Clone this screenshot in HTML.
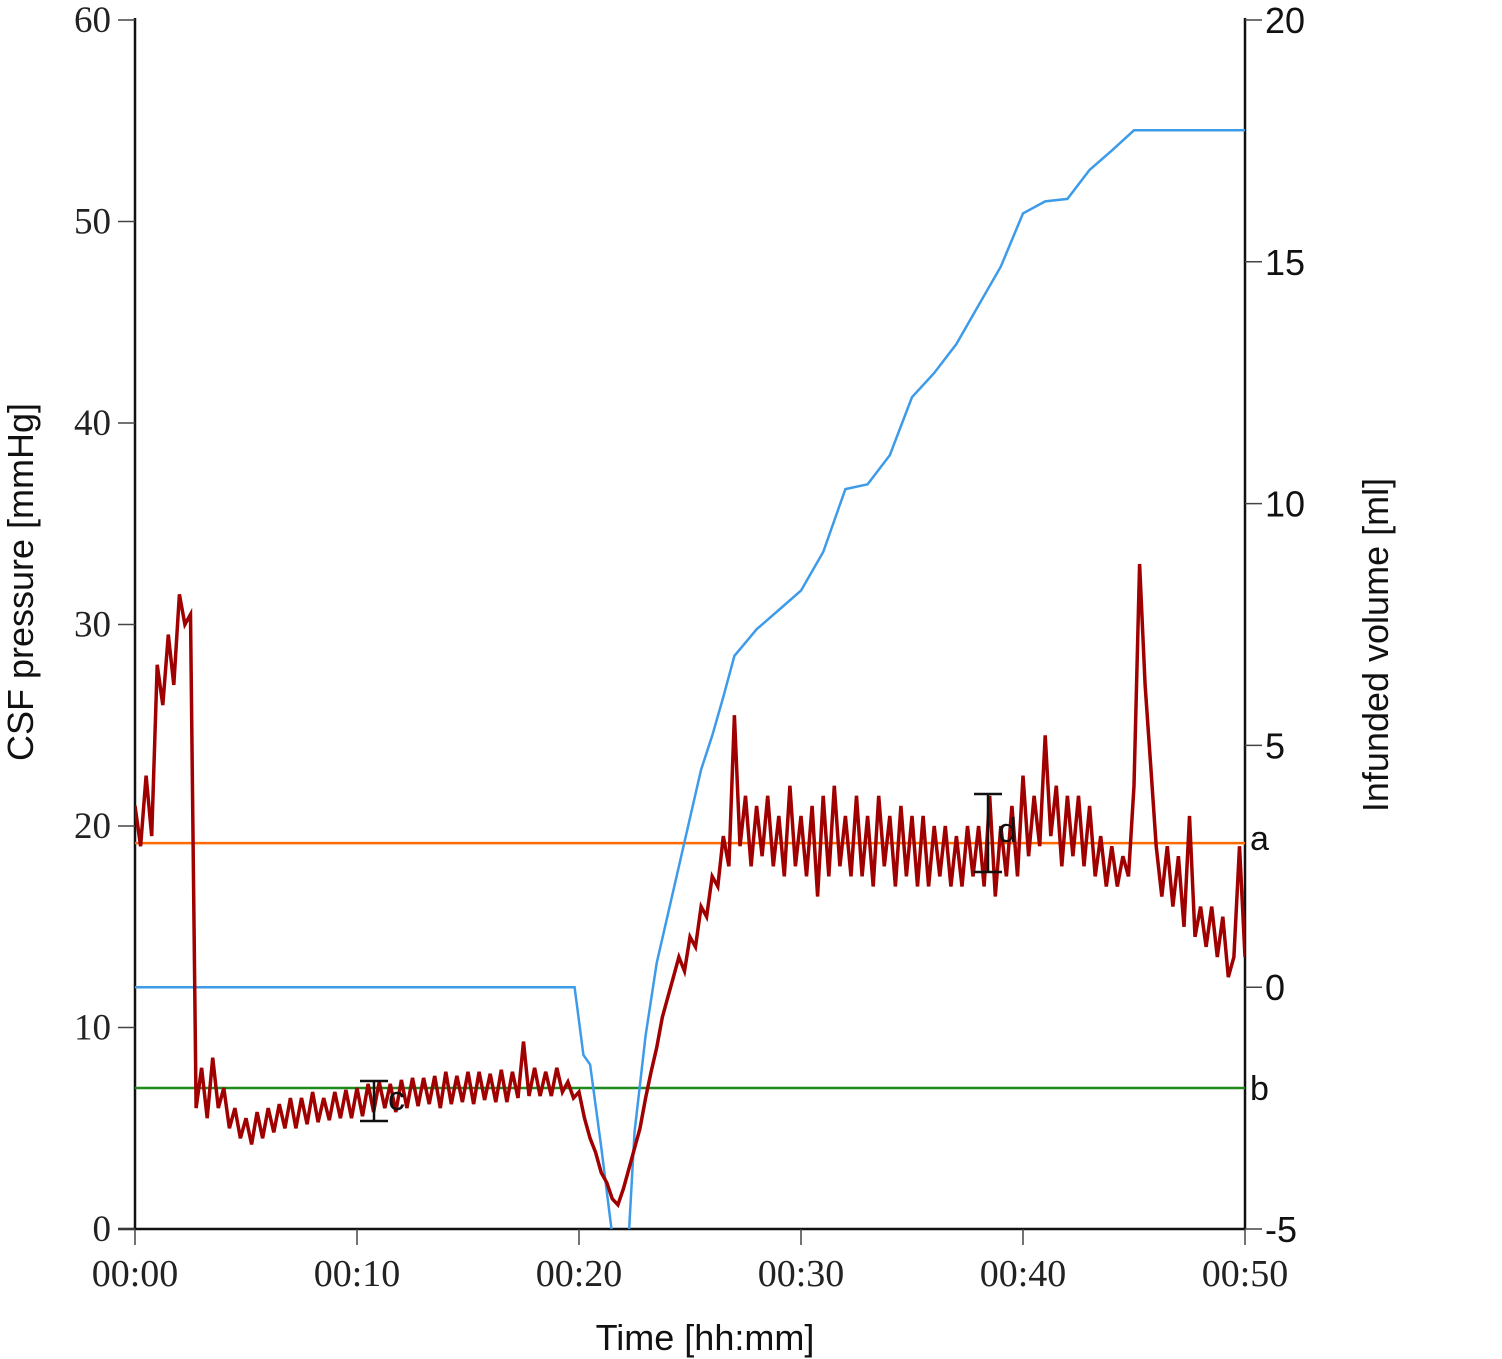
<!DOCTYPE html>
<html><head><meta charset="utf-8"><style>
html,body{margin:0;padding:0;background:#fff;}
svg{display:block;}
.ser{font-family:"Liberation Serif",serif;fill:#222;}
.san{font-family:"Liberation Sans",sans-serif;fill:#111;}
</style></head><body>
<svg id="chart" width="1502" height="1359" viewBox="0 0 1502 1359" xmlns="http://www.w3.org/2000/svg">
<defs><clipPath id="plotclip"><rect x="135" y="18" width="1110" height="1211"/></clipPath></defs>
<g id="axes"></g>
<g id="series" clip-path="url(#plotclip)"></g>
<g id="annot"></g>
</svg>
<script>
const timeTicks = ["00:00","00:10","00:20","00:30","00:40","00:50"];
const timeTickMin = [0,10,20,30,40,50];
const pressureTicks = [0,10,20,30,40,50,60];
const volumeTicks = [-5,0,5,10,15,20];
const pressureStepMin = 0.25;
const pressureValues = [
21,19,22.5,19.5,28,26,29.5,27,31.5,30,30.5,
6,8,5.5,8.5,6,7,5,6,4.5,5.5,4.2,5.8,4.5,6,4.8,6.2,5,6.5,5,6.5,5.2,6.8,5.3,6.5,5.4,6.8,5.5,6.9,5.5,
7,5.6,7.2,5.8,7.3,6,7.2,5.8,7.4,6,7.5,6.1,7.5,6.2,7.6,6,7.8,6.2,7.6,6.3,7.8,6.2,7.8,6.4,7.7,6.3,7.9,6.3,7.8,6.5,9.3,6.6,8,6.6,7.8,6.6,8,6.8,7.3,6.5,
6.8,5.5,4.5,3.8,2.8,2.3,1.5,1.2,2,3,4,5,6.5,7.8,9,10.5,11.5,12.5,13.5,12.8,14.5,14,16,15.5,17.5,17,19.5,18,
25.5,19,21.5,18,21,18.5,21.5,18,20.5,17.5,22,18,20.5,17.5,21,16.5,21.5,17.5,22,18,20.5,17.5,21.5,17.5,20.5,17,21.5,18,20.5,17,21,17.5,
20.5,17,20.5,17,20,17.5,20,17,19.5,17,20,17.5,20,17,21.5,16.5,20,17.5,21,17.5,22.5,18.5,21.5,19,24.5,19.5,22,18,21.5,18.5,21.5,18,
21,17.5,19.5,17,19,17,18.5,17.5,22,33,27,23,19,16.5,19,16,18.5,15,20.5,14.5,16,14,16,13.5,15.5,12.5,13.5,19,13.5];
const volumeTimes = [0,19.8,20.2,20.5,21.0,21.6,22.2,22.5,23,23.5,24,24.5,25,25.5,26,26.5,27,28,29,30,31,32,33,34,35,36,37,38,39,40,41,42,43,44,45,50];
const volumeValues = [0,0,-1.4,-1.6,-3.3,-5.5,-5.5,-3,-1,0.5,1.5,2.5,3.5,4.5,5.2,6.0,6.85,7.4,7.8,8.2,9.0,10.3,10.4,11.0,12.2,12.7,13.3,14.1,14.9,16.0,16.25,16.3,16.9,17.3,17.72,17.72];
const thresholdA = 19.15;
const thresholdB = 7.0;

const NS="http://www.w3.org/2000/svg";
const X0=135,X1=1245,Y0=1229,YT=20;
const xs=t=>X0+(t/50)*(X1-X0);
const yp=v=>Y0-(v/60)*(Y0-YT);
const yv=v=>Y0-((v+5)/25)*(Y0-YT);
function mk(tag,attrs,parent){const e=document.createElementNS(NS,tag);for(const k in attrs)e.setAttribute(k,attrs[k]);parent.appendChild(e);return e;}
const ax=document.getElementById('axes'),se=document.getElementById('series'),an=document.getElementById('annot');

let l=mk('line',{x1:X0,y1:18,x2:X0,y2:Y0,stroke:'#111','stroke-width':2.5},ax);


l=mk('line',{x1:X1,y1:18,x2:X1,y2:Y0,stroke:'#111','stroke-width':2.5},ax);


l=mk('line',{x1:118,y1:Y0,x2:X1,y2:Y0,stroke:'#111','stroke-width':2.5},ax);



pressureTicks.forEach(v=>{
  const y=yp(v);
  let t=mk('line',{x1:118,y1:y,x2:X0,y2:y,stroke:'#444','stroke-width':1.5},ax);
  
  
  let tx=mk('text',{x:111,y:y+12,'text-anchor':'end','font-size':37,class:'ser'},ax);
  tx.textContent=v;
  
  
});
volumeTicks.forEach(v=>{
  const y=yv(v);
  let t=mk('line',{x1:X1,y1:y,x2:1262,y2:y,stroke:'#444','stroke-width':1.5},ax);
  
  
  let tx=mk('text',{x:1265,y:y+13,'text-anchor':'start','font-size':36,class:'san'},ax);
  tx.textContent=v;
  
  
});
timeTickMin.forEach((m,i)=>{
  const x=xs(m);
  let t=mk('line',{x1:x,y1:Y0,x2:x,y2:1245,stroke:'#444','stroke-width':1.5},ax);
  
  
  let tx=mk('text',{x:x,y:1286,'text-anchor':'middle','font-size':38,class:'ser'},ax);
  tx.textContent=timeTicks[i];
  
  
});
let tt=mk('text',{x:705,y:1350,'text-anchor':'middle','font-size':36,class:'san'},ax);
tt.textContent='Time [hh:mm]';


tt=mk('text',{x:0,y:0,'text-anchor':'middle','font-size':36,class:'san',transform:'translate(33,582) rotate(-90)'},ax);
tt.textContent='CSF pressure [mmHg]';


tt=mk('text',{x:0,y:0,'text-anchor':'middle','font-size':36,class:'san',transform:'translate(1388,645) rotate(-90)'},ax);
tt.textContent='Infunded volume [ml]';



let h=mk('line',{x1:X0,y1:yp(thresholdA),x2:X1,y2:yp(thresholdA),stroke:'#ff6a00','stroke-width':2.5},se);


h=mk('line',{x1:X0,y1:yp(thresholdB),x2:X1,y2:yp(thresholdB),stroke:'#1e8a1e','stroke-width':2.5},se);



let vp=volumeTimes.map((t,i)=>xs(t).toFixed(1)+','+yv(volumeValues[i]).toFixed(1)).join(' ');
let pl=mk('polyline',{points:vp,fill:'none',stroke:'#3d9be9','stroke-width':2.5},se);



let pp=pressureValues.map((v,i)=>xs(i*pressureStepMin).toFixed(1)+','+yp(v).toFixed(1)).join(' ');
pl=mk('polyline',{points:pp,fill:'none',stroke:'#a00000','stroke-width':3.5,'stroke-linejoin':'miter'},se);



function bar(x,y1,y2,name){
  const g=mk('g',{stroke:'#111','stroke-width':2.5},an);
  
  
  mk('line',{x1:x,y1:y1,x2:x,y2:y2},g);
  mk('line',{x1:x-14,y1:y1,x2:x+14,y2:y1},g);
  mk('line',{x1:x-14,y1:y2,x2:x+14,y2:y2},g);
}
bar(374,1081,1121,'range-bar-c');
bar(988,794,872,'range-bar-d');
[['c',388,1110],['d',998,842],['a',1250,850],['b',1250,1100]].forEach(a=>{
  const t=mk('text',{x:a[1],y:a[2],'font-size':34,class:'san'},an);
  t.textContent=a[0];
  
  
});
</script>
</body></html>
